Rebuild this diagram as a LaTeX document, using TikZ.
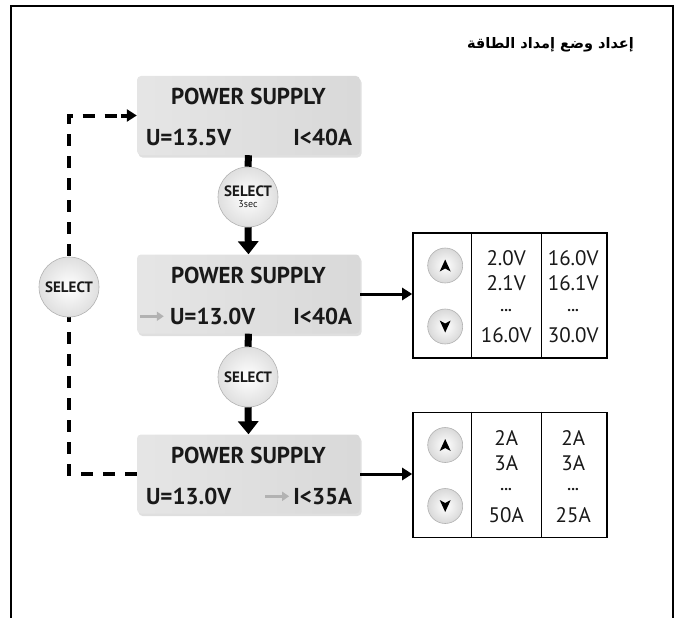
\documentclass[tikz,border=0pt]{standalone}
\usepackage{fontspec}
\setmainfont{PT Sans}
\newfontfamily\arabicfont[Script=Arabic]{DejaVu Sans}
\TeXXeTstate=1
\usetikzlibrary{arrows.meta,shadows,positioning,calc}

\tikzset{
  psbox/.style={rectangle, rounded corners=4pt, minimum width=223pt, minimum height=79pt,
    left color=gray!20, right color=gray!30,
    drop shadow={opacity=0.25, shadow xshift=1.5pt, shadow yshift=-2.5pt}},
  pstext/.style={inner sep=0pt, text=black!90, font=\bfseries\fontsize{23}{26}\selectfont},
  selbtn/.style={circle, minimum size=60pt, inner sep=0pt, draw=gray!60, line width=0.6pt,
    inner color=white, outer color=gray!25, align=center, text=black!90,
    font=\bfseries\fontsize{15}{15}\selectfont},
  stem/.style={line width=7pt},
  stemarrow/.style={line width=7pt, -{Triangle[length=13pt,width=20pt]}},
  dashline/.style={line width=4pt, dash pattern=on 12pt off 10pt},
  sidearrow/.style={line width=3pt, -{Triangle[length=10pt,width=12pt]}},
  grayarrow/.style={line width=3pt, gray!60, -{Triangle[length=7pt,width=9pt]}},
  tabbox/.style={rectangle, draw, line width=1.6pt, minimum width=194pt, minimum height=125pt},
  updn/.style={circle, minimum size=35pt, inner sep=0pt, draw=gray!60, line width=0.6pt,
    inner color=white, outer color=gray!30},
  tabtext/.style={inner sep=0pt, text=black!90, font=\fontsize{21}{24}\selectfont},
  tabdots/.style={inner sep=0pt, text=black!90, font=\bfseries\fontsize{15}{15}\selectfont}
}

\begin{document}
\begin{tikzpicture}[x=1pt, y=-1pt]
  \useasboundingbox (0,0) rectangle (683,618);

  % Frame, open at the bottom
  \draw[line width=2pt] (11,618) -- (11,6) -- (673,6) -- (673,618);

  % Title
  \node[anchor=east, inner sep=0pt, font=\arabicfont\bfseries\fontsize{14.5}{16}\selectfont] (title) at (634,45)
    {\beginR إعداد وضع إمداد الطاقة\endR};

  % Display boxes
  \node[psbox] (ps1) at (248.5,115.5) {};
  \node[psbox] (ps2) at (248.5,294) {};
  \node[psbox] (ps3) at (248.5,474) {};

  \foreach \b in {ps1,ps2,ps3}
    \node[pstext] (t\b) at ([yshift=-21pt]\b.north) {POWER SUPPLY};

  \node[pstext, anchor=west] (u1) at ([xshift=9pt, yshift=-62pt]ps1.north west) {U=13.5V};
  \node[pstext, anchor=east] (i1) at ([xshift=-8pt, yshift=-62pt]ps1.north east) {I<40A};
  \node[pstext, anchor=west] (u2) at ([xshift=33pt, yshift=-62pt]ps2.north west) {U=13.0V};
  \node[pstext, anchor=east] (i2) at ([xshift=-8pt, yshift=-62pt]ps2.north east) {I<40A};
  \node[pstext, anchor=west] (u3) at ([xshift=9pt, yshift=-62pt]ps3.north west) {U=13.0V};
  \node[pstext, anchor=east] (i3) at ([xshift=-8pt, yshift=-62pt]ps3.north east) {I<35A};

  % Gray markers
  \draw[grayarrow] ([xshift=-30pt]u2.west) -- ([xshift=-6pt]u2.west);
  \draw[grayarrow] ([xshift=-28pt]i3.west) -- ([xshift=-4pt]i3.west);

  % Select buttons
  \node[selbtn] (sel1) at (248,197) {SELECT\\[-4pt]{\mdseries\fontsize{10}{10}\selectfont 3sec}};
  \node[selbtn] (sel2) at (248,377) {SELECT};

  % Stems and arrows down
  \draw[stem] (ps1.south) -- (sel1.north);
  \draw[stemarrow] (sel1.south) -- (ps2.north);
  \draw[stem] (ps2.south) -- (sel2.north);
  \draw[stemarrow] (sel2.south) -- (ps3.north);

  % Dashed loop back
  \coordinate (bl) at (69,474);
  \coordinate (tl) at (69,115.5);
  \draw[dashline] (ps3.west) -- (bl) -- (tl) -- ([xshift=-14pt]ps1.west);
  \draw[sidearrow, line width=4pt] ([xshift=-16pt]ps1.west) -- (ps1.west);
  \node[selbtn] (sel0) at (69,287) {SELECT};

  % Tables
  \node[tabbox] (tab1) at (510,295.5) {};
  \node[tabbox] (tab2) at (510,475) {};

  \draw[sidearrow] (ps2.east) -- (ps2.east -| tab1.west);
  \draw[sidearrow] (ps3.east) -- (ps3.east -| tab2.west);

  \foreach \t in {tab1,tab2} {
    \draw[line width=0.8pt] ([xshift=59pt]\t.north west) -- ([xshift=59pt]\t.south west);
    \draw[line width=0.8pt] ([xshift=129pt]\t.north west) -- ([xshift=129pt]\t.south west);
    \node[updn] (up\t) at ([xshift=33pt, yshift=30pt]\t.west) {};
    \node[updn] (dn\t) at ([xshift=33pt, yshift=-31pt]\t.west) {};
    \fill ($(up\t)+(0,-6)$) -- ++(5.5,12) -- ++(-5.5,-3) -- ++(-5.5,3) -- cycle;
    \fill ($(dn\t)+(0,6)$) -- ++(5.5,-12) -- ++(-5.5,3) -- ++(-5.5,-3) -- cycle;
  }

  % Table values
  \foreach \t/\a/\b/\c/\d/\e/\f in {tab1/2.0V/2.1V/16.0V/16.0V/16.1V/30.0V, tab2/2A/3A/50A/2A/3A/25A} {
    \node[tabtext] at ([xshift=94pt, yshift=-26pt]\t.north west) {\a};
    \node[tabtext] at ([xshift=94pt, yshift=-51pt]\t.north west) {\b};
    \node[tabdots] at ([xshift=94pt, yshift=-78pt]\t.north west) {...};
    \node[tabtext] at ([xshift=94pt, yshift=-103pt]\t.north west) {\c};
    \node[tabtext] at ([xshift=161pt, yshift=-26pt]\t.north west) {\d};
    \node[tabtext] at ([xshift=161pt, yshift=-51pt]\t.north west) {\e};
    \node[tabdots] at ([xshift=161pt, yshift=-78pt]\t.north west) {...};
    \node[tabtext] at ([xshift=161pt, yshift=-103pt]\t.north west) {\f};
  }
\end{tikzpicture}
\end{document}
